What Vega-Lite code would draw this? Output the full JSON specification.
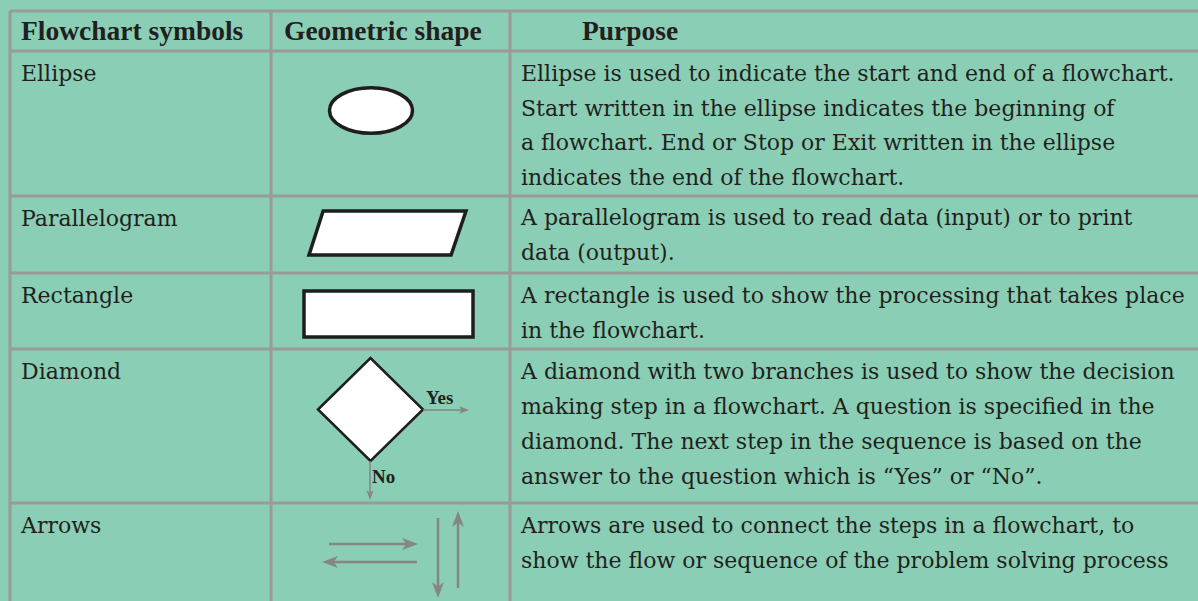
{
  "$schema": "https://vega.github.io/schema/vega-lite/v6.json",
  "width": 1198,
  "height": 601,
  "autosize": {"type": "none"},
  "padding": 0,
  "background": "#8ACFB5",
  "config": {"view": {"stroke": null}},
  "datasets": {
    "grid": [
      {"x": 10, "x2": 1198, "y": 11, "y2": 11},
      {"x": 10, "x2": 1198, "y": 51, "y2": 51},
      {"x": 10, "x2": 1198, "y": 196, "y2": 196},
      {"x": 10, "x2": 1198, "y": 273, "y2": 273},
      {"x": 10, "x2": 1198, "y": 349, "y2": 349},
      {"x": 10, "x2": 1198, "y": 503, "y2": 503},
      {"x": 10, "x2": 10, "y": 11, "y2": 601},
      {"x": 271, "x2": 271, "y": 11, "y2": 601},
      {"x": 510, "x2": 510, "y": 11, "y2": 601}
    ],
    "shafts": [
      {"x": 329, "x2": 413, "y": 544, "y2": 544, "w": 2.5},
      {"x": 328, "x2": 417, "y": 562, "y2": 562, "w": 2.5},
      {"x": 438, "x2": 438, "y": 518, "y2": 592, "w": 2.5},
      {"x": 458, "x2": 458, "y": 517, "y2": 588, "w": 2.5},
      {"x": 423, "x2": 464, "y": 410, "y2": 410, "w": 1.5},
      {"x": 370, "x2": 370, "y": 461, "y2": 495, "w": 1.5}
    ],
    "heads": [
      {"x": 418, "y": 544, "angle": 0, "size": 256},
      {"x": 322, "y": 562, "angle": 180, "size": 256},
      {"x": 438, "y": 598, "angle": 90, "size": 256},
      {"x": 458, "y": 511, "angle": 270, "size": 256},
      {"x": 469, "y": 410, "angle": 0, "size": 100},
      {"x": 370, "y": 500, "angle": 90, "size": 100}
    ],
    "ellipse": [{"x": 371, "y": 110.5}],
    "parallelogram": [{"x": 387.5, "y": 233}],
    "diamond": [{"x": 370.5, "y": 409.5}],
    "rectangle": [{"x": 304, "x2": 473, "y": 291, "y2": 337}],
    "header": [
      {"x": 21, "y": 40, "t": "Flowchart symbols"},
      {"x": 284, "y": 40, "t": "Geometric shape"},
      {"x": 582, "y": 40, "t": "Purpose"}
    ],
    "labels": [
      {"x": 426, "y": 404, "t": "Yes"},
      {"x": 372, "y": 483, "t": "No"}
    ],
    "body": [
      {"x": 21, "y": 81, "t": "Ellipse"},
      {"x": 21, "y": 226, "t": "Parallelogram"},
      {"x": 21, "y": 303, "t": "Rectangle"},
      {"x": 21, "y": 379, "t": "Diamond"},
      {"x": 21, "y": 533, "t": "Arrows"},
      {"x": 521, "y": 81, "t": "Ellipse is used to indicate the start and end of a flowchart."},
      {"x": 521, "y": 116, "t": "Start written in the ellipse indicates the beginning of"},
      {"x": 521, "y": 150, "t": "a flowchart. End or Stop or Exit written in the ellipse"},
      {"x": 521, "y": 185, "t": "indicates the end of the flowchart."},
      {"x": 521, "y": 225, "t": "A parallelogram is used to read data (input) or to print"},
      {"x": 521, "y": 260, "t": "data (output)."},
      {"x": 521, "y": 303, "t": "A rectangle is used to show the processing that takes place"},
      {"x": 521, "y": 338, "t": "in the flowchart."},
      {"x": 521, "y": 379, "t": "A diamond with two branches is used to show the decision"},
      {"x": 521, "y": 414, "t": "making step in a flowchart. A question is specified in the"},
      {"x": 521, "y": 449, "t": "diamond. The next step in the sequence is based on the"},
      {"x": 521, "y": 484, "t": "answer to the question which is “Yes” or “No”."},
      {"x": 521, "y": 533, "t": "Arrows are used to connect the steps in a flowchart, to"},
      {"x": 521, "y": 568, "t": "show the flow or sequence of the problem solving process"}
    ]
  },
  "encoding": {
    "x": {"field": "x", "type": "quantitative", "scale": {"domain": [0, 1198], "nice": false, "zero": false}, "axis": null},
    "y": {"field": "y", "type": "quantitative", "scale": {"domain": [0, 601], "nice": false, "zero": false, "reverse": true}, "axis": null}
  },
  "layer": [
    {
      "data": {"name": "grid"},
      "mark": {"type": "rule", "color": "#9a9a9a", "strokeWidth": 3},
      "encoding": {"x2": {"field": "x2"}, "y2": {"field": "y2"}}
    },
    {
      "data": {"name": "rectangle"},
      "mark": {"type": "rect", "fill": "#ffffff", "stroke": "#1e1e1e", "strokeWidth": 3.5},
      "encoding": {"x2": {"field": "x2"}, "y2": {"field": "y2"}}
    },
    {
      "data": {"name": "ellipse"},
      "mark": {"type": "point", "filled": false, "fill": "#ffffff", "fillOpacity": 1, "stroke": "#1e1e1e", "strokeWidth": 3.5, "opacity": 1,
        "shape": "M-1,0A1,0.55 0 1,1 1,0A1,0.55 0 1,1 -1,0Z", "size": 6889}
    },
    {
      "data": {"name": "parallelogram"},
      "mark": {"type": "point", "filled": false, "fill": "#ffffff", "fillOpacity": 1, "stroke": "#1e1e1e", "strokeWidth": 3.5, "opacity": 1,
        "shape": "M-0.82,-0.28L1,-0.28L0.81,0.28L-1,0.28Z", "size": 24649}
    },
    {
      "data": {"name": "diamond"},
      "mark": {"type": "point", "filled": false, "fill": "#ffffff", "fillOpacity": 1, "stroke": "#1e1e1e", "strokeWidth": 2.5, "opacity": 1,
        "shape": "M-1,0L0,-0.98L1,0L0,0.98Z", "size": 11025}
    },
    {
      "data": {"name": "shafts"},
      "mark": {"type": "rule", "color": "#858585"},
      "encoding": {"x2": {"field": "x2"}, "y2": {"field": "y2"}, "strokeWidth": {"field": "w", "type": "quantitative", "scale": null}}
    },
    {
      "data": {"name": "heads"},
      "mark": {"type": "point", "filled": true, "color": "#858585", "opacity": 1,
        "shape": "M0,0L-2,-0.75L-1.45,0L-2,0.75Z"},
      "encoding": {
        "angle": {"field": "angle", "type": "quantitative", "scale": null},
        "size": {"field": "size", "type": "quantitative", "scale": null}
      }
    },
    {
      "data": {"name": "header"},
      "mark": {"type": "text", "align": "left", "baseline": "alphabetic", "font": "Liberation Serif", "fontSize": 27.5, "fontWeight": "bold", "color": "#231f20"},
      "encoding": {"text": {"field": "t"}}
    },
    {
      "data": {"name": "labels"},
      "mark": {"type": "text", "align": "left", "baseline": "alphabetic", "font": "Liberation Serif", "fontSize": 19, "fontWeight": "bold", "color": "#231f20"},
      "encoding": {"text": {"field": "t"}}
    },
    {
      "data": {"name": "body"},
      "mark": {"type": "text", "align": "left", "baseline": "alphabetic", "font": "DejaVu Serif", "fontSize": 22, "fontWeight": "normal", "color": "#231f20"},
      "encoding": {"text": {"field": "t"}}
    }
  ]
}
